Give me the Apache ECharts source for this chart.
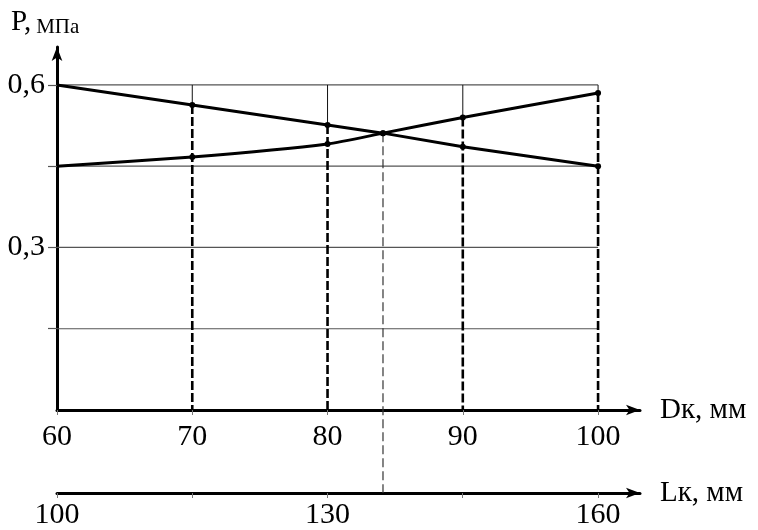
<!DOCTYPE html>
<html>
<head>
<meta charset="utf-8">
<script src="https://cdn.jsdelivr.net/npm/echarts@6/dist/echarts.min.js"></script>
<style>html,body{margin:0;padding:0;background:#fff}#c{width:758px;height:530px}</style>
</head>
<body>
<div id="c"></div>
<script>
// ---- data ----
const dkValues   = [60, 70, 80, 90, 100];          // Dк, мм
const lkTicks    = [100, 115, 130, 145, 160];      // Lк, мм ticks
const lkLabels   = [100, 130, 160];
const pFalling   = [0.600, 0.563, 0.526, 0.486, 0.450];
const pRising    = [0.450, 0.467, 0.491, 0.540, 0.585];
const crossDk    = [84.1];
const crossP     = [0.511];
const yTicks     = [0.15, 0.30, 0.45, 0.60];
const yLabels    = [0.30, 0.60];

const FONT = '"Liberation Serif", "Times New Roman", serif';
const chart = echarts.init(document.getElementById('c'));

const fallingData = dkValues.map((d, i) => [d, pFalling[i]]);
const risingData = dkValues.map((d, i) => [d, pRising[i]]);
risingData.push([crossDk[0], crossP[0]]);
risingData.sort((a, b) => a[0] - b[0]);
fallingData.push([crossDk[0], crossP[0]]);
fallingData.sort((a, b) => a[0] - b[0]);

const yTop = yTicks[yTicks.length - 1];
const series = [];
// horizontal grid lines (only up to last Dk value)
yTicks.forEach(y => series.push({
  type: 'line', silent: true, symbol: 'none', z: 1,
  data: [[dkValues[0], y], [dkValues[dkValues.length - 1], y]],
  lineStyle: { color: '#555', width: 1.2 }
}));
// vertical lines at each Dk (except first)
dkValues.slice(1).forEach((d, k) => {
  const i = k + 1;
  const top = Math.max(pFalling[i], pRising[i]);
  series.push({
    type: 'line', silent: true, symbol: 'none', z: 2,
    data: [[d, yTop], [d, top]],
    lineStyle: { color: '#111', width: 1 }
  });
  series.push({
    type: 'line', silent: true, symbol: 'none', z: 2,
    data: [[d, top], [d, 0]],
    lineStyle: { color: '#000', width: 2.6, type: [9, 3] }
  });
});
const symSize = (v) => (v[0] === dkValues[0] ? 0 : 6);
series.push({
  type: 'line', data: fallingData, z: 5, symbol: 'circle', symbolSize: symSize,
  itemStyle: { color: '#000' }, lineStyle: { color: '#000', width: 3 }
});
series.push({
  type: 'line', data: risingData, z: 5, symbol: 'circle', symbolSize: symSize, smooth: 0.2,
  itemStyle: { color: '#000' }, lineStyle: { color: '#000', width: 3 }
});

const axisArrow = { show: true, symbol: ['none', 'arrow'], symbolSize: [8, 14], lineStyle: { color: '#000', width: 3 } };

chart.setOption({
  animation: false,
  backgroundColor: '#fff',
  title: {
    text: '{p|P,} {u|МПа}', left: 6, top: 2,
    textStyle: { fontWeight: 'normal', rich: {
      p: { fontFamily: FONT, fontSize: 29, fontWeight: 'normal', color: '#000' },
      u: { fontFamily: FONT, fontSize: 21, fontWeight: 'normal', color: '#000', padding: [10, 0, 0, 0] }
    } }
  },
  grid: { left: 57, right: 118, top: 47, bottom: 120 },
  xAxis: [{
    type: 'value', min: 60, max: 103.1,
    axisLine: axisArrow,
    axisTick: { show: true, customValues: dkValues, length: 5, lineStyle: { color: '#777' } },
    axisLabel: { customValues: dkValues, fontFamily: FONT, fontSize: 30, color: '#000', margin: 12 },
    splitLine: { show: false },
    name: 'Dк, мм', nameLocation: 'end', nameGap: 20,
    nameTextStyle: { fontFamily: FONT, fontSize: 29, color: '#000', verticalAlign: 'middle' }
  }, {
    type: 'value', min: 100, max: 164.66, position: 'bottom', offset: 83,
    axisLine: axisArrow,
    axisTick: { show: true, customValues: lkTicks, length: 5, lineStyle: { color: '#777' } },
    axisLabel: { customValues: lkLabels, fontFamily: FONT, fontSize: 30, color: '#000', margin: 7 },
    splitLine: { show: false },
    name: 'Lк, мм', nameLocation: 'end', nameGap: 20,
    nameTextStyle: { fontFamily: FONT, fontSize: 29, color: '#000', verticalAlign: 'middle' }
  }],
  yAxis: {
    type: 'value', min: 0, max: 0.67,
    axisLine: axisArrow,
    axisTick: { show: true, customValues: yTicks, length: 9, lineStyle: { color: '#555', width: 1.2 } },
    axisLabel: { customValues: yLabels, fontFamily: FONT, fontSize: 30, color: '#000', margin: 12,
      padding: [6, 0, 0, 0],
      formatter: v => v.toFixed(1).replace('.', ',') },
    splitLine: { show: false }
  },
  series: series
});

// thin dashed guide from the crossing point down to the Lк axis
const pCross = chart.convertToPixel({ xAxisIndex: 0, yAxisIndex: 0 }, [crossDk[0], crossP[0]]);
const pZero = chart.convertToPixel({ xAxisIndex: 0, yAxisIndex: 0 }, [crossDk[0], 0]);
chart.setOption({
  graphic: [{
    type: 'line', z: 3,
    shape: { x1: pCross[0], y1: pCross[1], x2: pCross[0], y2: pZero[1] + 83 },
    style: { stroke: '#333', lineWidth: 1.2, lineDash: [9, 4] }
  }]
});
</script>
</body>
</html>
